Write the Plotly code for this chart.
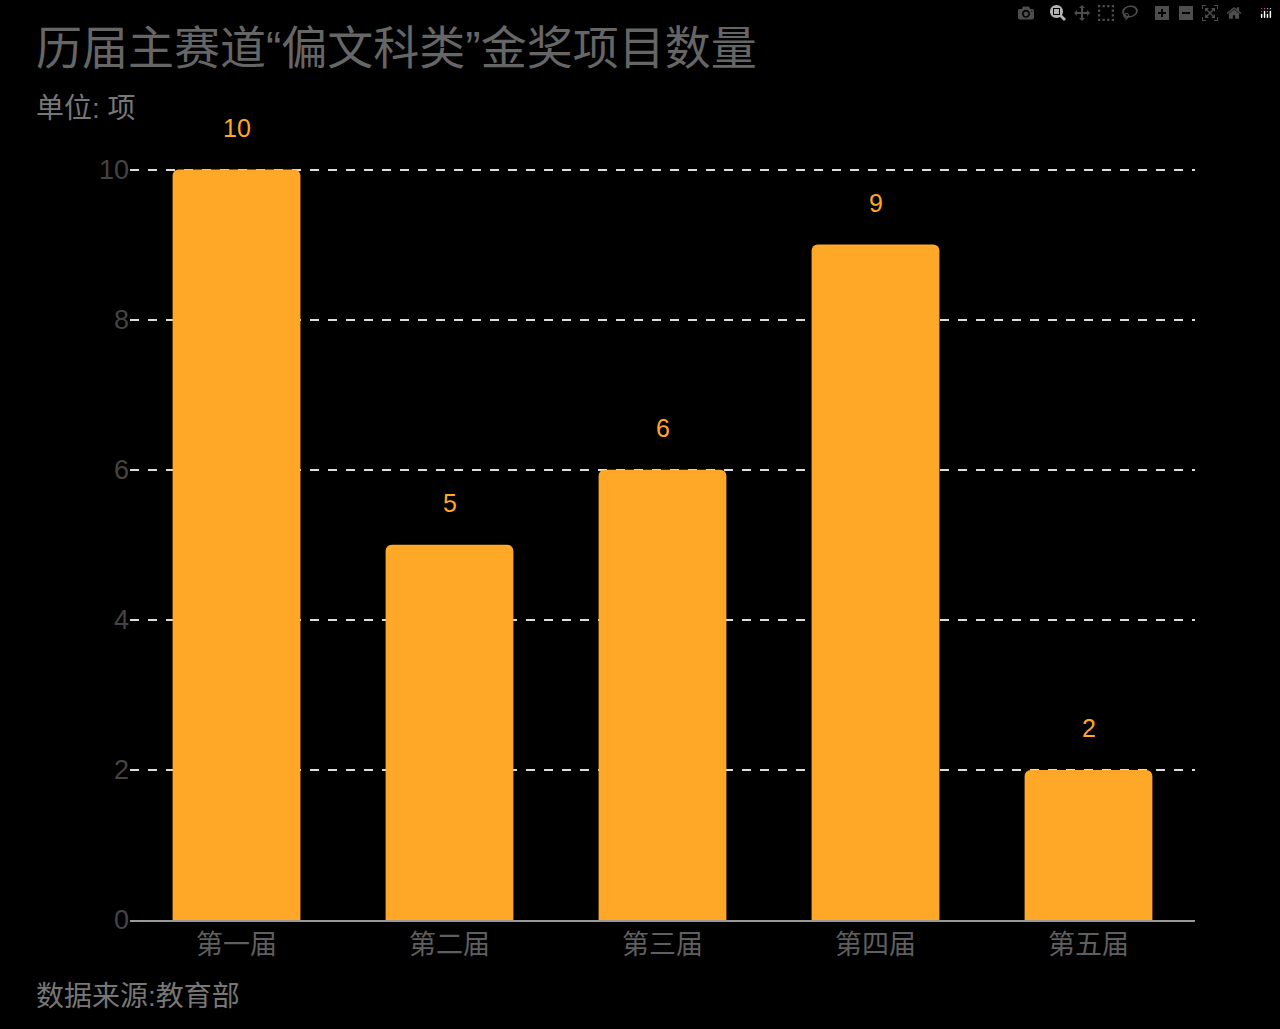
import plotly.graph_objects as go

categories = ['第一届', '第二届', '第三届', '第四届', '第五届']
values = [10, 5, 6, 9, 2]
y_ticks = [0, 2, 4, 6, 8, 10]

font_family = 'Liberation Sans, Noto Sans CJK SC'
orange = '#FFA726'
grey = '#5f5f5f'

fig = go.Figure(go.Bar(
    x=categories, y=values,
    marker=dict(color=orange, cornerradius=6, line=dict(width=0)),
    width=0.6, hoverinfo='skip',
))

# value labels floating above the bars
for c, v in zip(categories, values):
    fig.add_annotation(x=c, y=v, text=str(v), showarrow=False, yshift=42,
                       font=dict(size=25, color=orange, family=font_family))

fig.update_layout(
    width=1280, height=1029,
    paper_bgcolor='black', plot_bgcolor='black',
    margin=dict(l=130, r=85, t=168, b=109),
    font=dict(family=font_family, color=grey),
    bargap=0.4,
    showlegend=False,
)
fig.update_xaxes(showgrid=False, showline=True, linecolor='#999999', linewidth=2,
                 tickfont=dict(size=27, color=grey), ticks='')
fig.update_yaxes(range=[0, 10.02], tickvals=y_ticks, showgrid=True, gridcolor='#dddddd',
                 griddash='dash', gridwidth=1.5, zeroline=False,
                 tickfont=dict(size=27, color='#444444'), ticks='')

fig.add_annotation(xref='paper', yref='paper', x=-0.09, y=1.0, yshift=120, xanchor='left', yanchor='middle',
                   text='历届主赛道“偏文科类”金奖项目数量', showarrow=False,
                   font=dict(size=46, color='#666666', family=font_family))
fig.add_annotation(xref='paper', yref='paper', x=-0.09, y=1.0, yshift=60, xanchor='left', yanchor='middle',
                   text='单位: 项', showarrow=False,
                   font=dict(size=28, color='#777777', family=font_family))
fig.add_annotation(xref='paper', yref='paper', x=-0.09, y=0.0, yshift=-76, xanchor='left', yanchor='middle',
                   text='数据来源:教育部', showarrow=False,
                   font=dict(size=28, color='#777777', family=font_family))

fig.write_html("out.html",
               post_script="document.body.style.margin='0';document.body.style.background='black';")
